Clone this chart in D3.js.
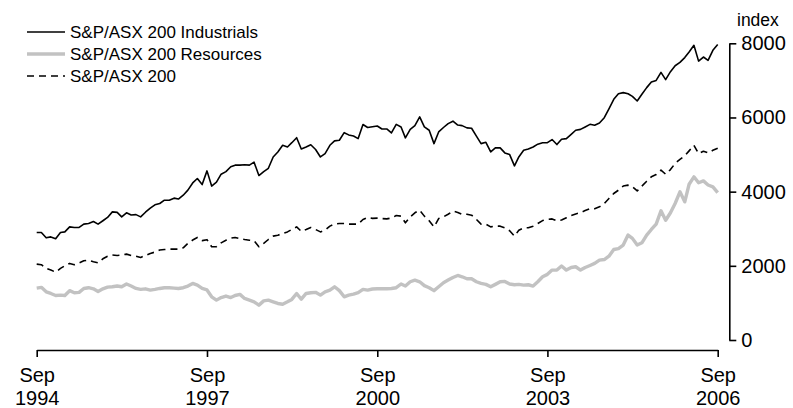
<!DOCTYPE html>
<html><head><meta charset="utf-8">
<script src="https://cdn.jsdelivr.net/npm/d3@7"></script>
<style>
body{margin:0;background:#fff}
svg{display:block}
text{font-family:"Liberation Sans",Arial,sans-serif;fill:#000}
</style>
</head><body>
<svg id="chart" width="793" height="408"></svg>
<script>
// ---- data (monthly, Sep 1994 to Sep 2006) ----
const industrials = [
2900,2900,2755,2780,2730,2900,2915,3050,3035,3035,
3125,3140,3195,3125,3215,3305,3455,3440,3320,3430,
3370,3380,3320,3445,3555,3645,3680,3770,3770,3825,
3800,3905,4040,4235,4355,4190,4560,4150,4255,4470,
4540,4670,4715,4715,4725,4715,4795,4435,4540,4630,
4935,5070,5250,5205,5320,5455,5150,5205,5265,5135,
4935,5025,5250,5370,5385,5590,5530,5500,5430,5810,
5730,5750,5770,5690,5690,5585,5815,5745,5450,5680,
5780,6015,5745,5655,5295,5610,5730,5835,5900,5795,
5780,5720,5710,5495,5295,5330,5070,5180,5180,5045,
5000,4695,4935,5115,5150,5205,5280,5320,5320,5405,
5270,5415,5430,5545,5655,5680,5745,5815,5790,5850,
5995,6235,6490,6640,6670,6640,6570,6445,6625,6805,
6955,7000,7215,7020,7235,7395,7485,7615,7765,7945,
7520,7630,7540,7810,7970];
const resources = [
1400,1420,1300,1255,1200,1210,1200,1330,1275,1285,
1390,1410,1380,1310,1380,1425,1435,1455,1435,1510,
1455,1390,1365,1380,1345,1365,1390,1410,1410,1400,
1390,1410,1455,1525,1480,1390,1350,1165,1075,1145,
1185,1145,1200,1230,1120,1075,1030,940,1055,1075,
1030,985,965,1030,1095,1255,1100,1255,1275,1285,
1210,1300,1345,1435,1330,1165,1210,1235,1275,1365,
1345,1375,1380,1380,1380,1390,1410,1510,1455,1570,
1615,1570,1465,1410,1330,1435,1545,1615,1685,1740,
1705,1650,1650,1570,1525,1500,1435,1500,1570,1580,
1510,1490,1500,1480,1490,1455,1570,1705,1770,1885,
1885,1995,1885,1955,1975,1885,1955,2010,2065,2155,
2170,2260,2440,2465,2560,2830,2740,2560,2620,2830,
2980,3125,3485,3230,3430,3680,3995,3725,4200,4400,
4240,4290,4180,4130,3975];
const asx200 = [
2045,2030,1930,1885,1830,1930,2000,2065,2030,2080,
2135,2155,2110,2080,2190,2260,2290,2280,2290,2315,
2280,2260,2225,2280,2335,2370,2425,2440,2450,2450,
2450,2485,2605,2695,2765,2680,2705,2515,2515,2620,
2690,2745,2765,2735,2710,2690,2675,2515,2605,2710,
2800,2825,2870,2915,2980,3050,2930,2980,3035,2980,
2915,2960,3070,3125,3140,3140,3125,3125,3125,3250,
3305,3280,3285,3275,3265,3290,3355,3340,3160,3320,
3430,3500,3340,3215,3050,3275,3320,3390,3475,3440,
3390,3390,3365,3250,3125,3125,3050,3070,3070,3025,
2945,2800,2960,3025,3025,3070,3140,3220,3255,3265,
3215,3235,3295,3355,3400,3435,3490,3540,3540,3590,
3680,3815,3950,4040,4150,4175,4130,4020,4150,4280,
4400,4460,4580,4470,4595,4760,4870,4965,5100,5250,
5025,5090,5045,5115,5170];
const seriesNames = ["S&P/ASX 200 Industrials", "S&P/ASX 200 Resources", "S&P/ASX 200"];
const yTicks = [0, 2000, 4000, 6000, 8000];
const xTickYears = [1994, 1997, 2000, 2003, 2006];
const xTickMonth = "Sep";
const yUnit = "index";

// ---- scales ----
const svg = d3.select("#chart");
const monthDate = i => new Date(1994, 8 + i, 1);
const x = d3.scaleTime().domain([monthDate(0), monthDate(144)]).range([36.7, 717.7]);
const y = d3.scaleLinear().domain([0, 8000]).range([340, 43.3]);

const line = d3.line().x((d, i) => x(monthDate(i))).y(d => y(d));

const series = [
  {name: seriesNames[1], values: resources, stroke: "#c2c2c2", width: 3.4, dash: null},
  {name: seriesNames[2], values: asx200, stroke: "#000", width: 1.6, dash: "7,5"},
  {name: seriesNames[0], values: industrials, stroke: "#000", width: 1.6, dash: null}
];

series.forEach(s => {
  svg.append("path").datum(s.values)
    .attr("fill", "none").attr("stroke", s.stroke).attr("stroke-width", s.width)
    .attr("stroke-linejoin", "round")
    .attr("stroke-dasharray", s.dash)
    .attr("d", line);
});

// ---- y axis (right) ----
const yAxis = svg.append("g").attr("transform", "translate(729.3,0)")
  .call(d3.axisRight(y).tickValues(yTicks).tickSize(7).tickSizeOuter(0).tickPadding(5).tickFormat(d3.format("d")));
yAxis.selectAll("path,line").attr("stroke", "#000").attr("stroke-width", 1.6);
yAxis.selectAll("text").style("font-size", "20px").attr("fill", "#000")
  .style("font-family", '"Liberation Sans",Arial,sans-serif');

svg.append("text").attr("x", 737).attr("y", 26).style("font-size", "17.5px").text(yUnit);

// ---- x axis ----
const tickDates = xTickYears.map(yr => new Date(yr, 8, 1));
const xAxis = svg.append("g").attr("transform", "translate(0,350)")
  .call(d3.axisBottom(x).tickValues(tickDates).tickSize(7).tickSizeOuter(0).tickFormat(""));
xAxis.selectAll("path,line").attr("stroke", "#000").attr("stroke-width", 1.6);
xAxis.selectAll(".tick").each(function(d) {
  const t = d3.select(this).append("text").attr("text-anchor", "middle")
    .style("font-size", "20px").style("font-family", '"Liberation Sans",Arial,sans-serif').attr("fill", "#000");
  t.append("tspan").attr("x", 0).attr("y", 32).text(xTickMonth);
  t.append("tspan").attr("x", 0).attr("y", 55).text(d.getFullYear());
});

// ---- legend ----
const legendItems = [
  {name: seriesNames[0], stroke: "#000", width: 1.6, dash: null},
  {name: seriesNames[1], stroke: "#c2c2c2", width: 3.4, dash: null},
  {name: seriesNames[2], stroke: "#000", width: 1.6, dash: "7,5"}
];
const lg = svg.append("g");
legendItems.forEach((it, i) => {
  const yy = 32 + i * 22;
  lg.append("line").attr("x1", 27).attr("x2", 65).attr("y1", yy).attr("y2", yy)
    .attr("stroke", it.stroke).attr("stroke-width", it.width).attr("stroke-dasharray", it.dash);
  lg.append("text").attr("x", 70).attr("y", yy + 6).style("font-size", "17px").text(it.name);
});
</script>
</body></html>
